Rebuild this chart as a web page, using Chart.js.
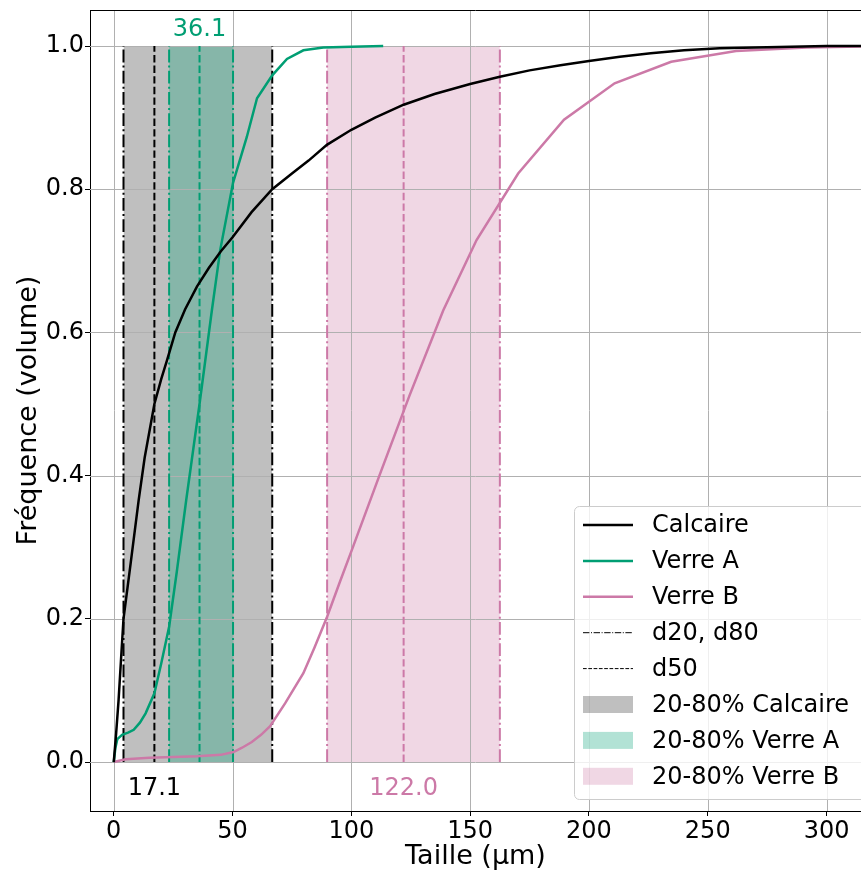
<!DOCTYPE html>
<html>
<head>
<meta charset="utf-8">
<script src="https://cdn.jsdelivr.net/npm/chart.js@4.4.1/dist/chart.umd.min.js"></script>
<style>
  html, body { margin: 0; padding: 0; background: #fff; }
</style>
</head>
<body>
<canvas id="psd" width="861" height="870"></canvas>
<script>
// tick labels
const xTicks = [0, 50, 100, 150, 200, 250, 300];
const yTicks = [0, 0.2, 0.4, 0.6, 0.8, 1.0];

// cumulative curves (size in µm, volume fraction)
const calcaireSize = [0, 1, 2, 3, 4.1, 7.2, 10.5, 13, 17.1, 20, 22.4, 25.9, 30, 35, 40, 45, 50, 58, 66.7, 75, 82, 89.7, 100, 110, 122, 135, 150, 162.5, 175, 188, 200, 213, 226, 240, 255, 270, 285, 300, 316];
const calcaireFreq = [0, 0.04, 0.085, 0.14, 0.2, 0.28, 0.366, 0.425, 0.5, 0.535, 0.561, 0.6, 0.632, 0.664, 0.69, 0.713, 0.733, 0.768, 0.8, 0.822, 0.84, 0.862, 0.883, 0.9, 0.918, 0.933, 0.947, 0.957, 0.966, 0.973, 0.979, 0.985, 0.99, 0.994, 0.997, 0.998, 0.999, 1.0, 1.0];

const verreASize = [0, 0.7, 1.5, 3.5, 6, 8.4, 11, 13.4, 17.1, 20, 23.3, 26.5, 30.5, 36.1, 41.3, 44.8, 50.2, 56, 60.3, 66.7, 72.9, 79.8, 88.2, 100, 113.4];
const verreAFreq = [0, 0.02, 0.032, 0.038, 0.041, 0.045, 0.055, 0.068, 0.096, 0.138, 0.189, 0.265, 0.366, 0.5, 0.631, 0.715, 0.809, 0.873, 0.927, 0.959, 0.982, 0.994, 0.998, 0.999, 1.0];

const verreBSize = [0, 5, 15, 25, 35, 45, 50.4, 54, 58.1, 62, 65.8, 72.1, 79.8, 84.5, 89.8, 95, 100.3, 111.8, 124.5, 138.7, 152.7, 170.2, 189.5, 210.8, 234.6, 261.9, 291.7, 325];
const verreBFreq = [0, 0.004, 0.006, 0.007, 0.008, 0.01, 0.014, 0.02, 0.028, 0.038, 0.05, 0.082, 0.124, 0.16, 0.203, 0.25, 0.297, 0.4, 0.512, 0.631, 0.729, 0.822, 0.897, 0.948, 0.978, 0.993, 0.998, 1.0];

// characteristic sizes per material
const names = ['Calcaire', 'Verre A', 'Verre B'];
const d20 = [4.1, 23.3, 89.8];
const d50 = [17.1, 36.1, 122.0];
const d80 = [66.7, 50.2, 162.5];

const colors = ['#000000', '#009E73', '#CC79A7'];
const bandColors = ['rgba(0,0,0,0.25)', 'rgba(0,158,115,0.3)', 'rgba(204,121,167,0.3)'];
const FONT = "'DejaVu Sans', sans-serif";
const DASH = [7.4, 3.2];
const DASHDOT = [12.8, 3.2, 2, 3.2];

const pts = (xs, ys) => xs.map((v, i) => ({ x: v, y: ys[i] }));
const sizes = [calcaireSize, verreASize, verreBSize];
const freqs = [calcaireFreq, verreAFreq, verreBFreq];

const datasets = [];
// curves on top
names.forEach((n, i) => {
  datasets.push({
    label: n, data: pts(sizes[i], freqs[i]),
    borderColor: colors[i], borderWidth: 2.5, pointRadius: 0, tension: 0, fill: false, order: 1
  });
});
// d20 / d50 / d80 lines
names.forEach((n, i) => {
  [[d20[i], DASHDOT], [d80[i], DASHDOT], [d50[i], DASH]].forEach(([v, dash]) => {
    datasets.push({
      label: n + ' d', data: [{ x: v, y: 0 }, { x: v, y: 1 }],
      borderColor: colors[i], borderWidth: 2, borderDash: dash, borderCapStyle: 'butt',
      pointRadius: 0, fill: false, order: 2
    });
  });
});
// 20-80% bands
names.forEach((n, i) => {
  datasets.push({
    label: '20-80% ' + n, data: [{ x: d20[i], y: 1 }, { x: d80[i], y: 1 }],
    borderWidth: 0, borderColor: 'rgba(0,0,0,0)', backgroundColor: bandColors[i],
    fill: 'origin', pointRadius: 0, order: 6 - i, lastBand: i === 2
  });
});

const legendItems = [
  { text: 'Calcaire', kind: 'line', color: colors[0], w: 2.5 },
  { text: 'Verre A', kind: 'line', color: colors[1], w: 2.5 },
  { text: 'Verre B', kind: 'line', color: colors[2], w: 2.5 },
  { text: 'd20, d80', kind: 'line', color: '#000', w: 1, dash: [6.4, 1.6, 1, 1.6] },
  { text: 'd50', kind: 'line', color: '#000', w: 1, dash: [3.7, 1.6] },
  { text: '20-80% Calcaire', kind: 'patch', color: bandColors[0] },
  { text: '20-80% Verre A', kind: 'patch', color: bandColors[1] },
  { text: '20-80% Verre B', kind: 'patch', color: bandColors[2] }
];

const overlay = {
  id: 'overlay',
  afterDatasetDraw(chart, args) {
    if (!chart.data.datasets[args.index].lastBand) return;
    // grid sits above the shaded bands, below the lines
    const { ctx, chartArea: a, scales: { x, y } } = chart;
    ctx.save();
    ctx.strokeStyle = '#b0b0b0';
    ctx.lineWidth = 1;
    ctx.beginPath();
    xTicks.forEach(v => {
      const p = Math.round(x.getPixelForValue(v)) + 0.5;
      ctx.moveTo(p, a.top); ctx.lineTo(p, a.bottom);
    });
    yTicks.forEach(v => {
      const p = Math.round(y.getPixelForValue(v)) + 0.5;
      ctx.moveTo(a.left, p); ctx.lineTo(a.right, p);
    });
    ctx.stroke();
    ctx.restore();
  },
  afterDatasetsDraw(chart) {
    const { ctx, chartArea: a, scales: { x, y } } = chart;
    ctx.save();
    // top spine
    ctx.strokeStyle = '#000';
    ctx.lineWidth = 1;
    ctx.beginPath();
    ctx.moveTo(a.left, Math.round(a.top) + 0.5); ctx.lineTo(a.right, Math.round(a.top) + 0.5);
    ctx.stroke();

    // d50 labels
    ctx.font = '24px ' + FONT;
    ctx.textAlign = 'center';
    ctx.textBaseline = 'middle';
    d50.forEach((v, i) => {
      ctx.fillStyle = colors[i];
      const above = i === 1;
      const py = above ? y.getPixelForValue(1) - 16 : y.getPixelForValue(0) + 27;
      ctx.fillText(v.toFixed(1), x.getPixelForValue(v), py);
    });

    // legend
    const lx = 574, ly = 506, lw = 300, lh = 293;
    ctx.fillStyle = 'rgba(255,255,255,0.8)';
    ctx.strokeStyle = '#cccccc';
    ctx.lineWidth = 1;
    ctx.beginPath();
    ctx.roundRect(lx + 0.5, ly + 0.5, lw, lh, 5);
    ctx.fill();
    ctx.stroke();
    ctx.textAlign = 'left';
    legendItems.forEach((it, k) => {
      const cy = 525 + k * 35.9;
      if (it.kind === 'line') {
        ctx.strokeStyle = it.color;
        ctx.lineWidth = it.w;
        ctx.setLineDash(it.dash || []);
        ctx.beginPath();
        ctx.moveTo(583, cy); ctx.lineTo(633, cy);
        ctx.stroke();
        ctx.setLineDash([]);
      } else {
        ctx.fillStyle = it.color;
        ctx.fillRect(583, cy - 8.5, 50, 17);
      }
      ctx.fillStyle = '#000';
      ctx.fillText(it.text, 652, cy + 1);
    });
    ctx.restore();
  }
};

new Chart(document.getElementById('psd'), {
  type: 'line',
  data: { datasets },
  plugins: [overlay],
  options: {
    responsive: false,
    animation: false,
    events: [],
    devicePixelRatio: 1,
    layout: { padding: { top: 10, right: 0, bottom: 0, left: 0 } },
    plugins: { legend: { display: false }, tooltip: { enabled: false } },
    scales: {
      x: {
        type: 'linear', min: -10, max: 314.5,
        afterBuildTicks: s => { s.ticks = xTicks.map(v => ({ value: v })); },
        afterFit: s => { s.height = 59; s.paddingLeft = 0; s.paddingRight = 0; },
        grid: { drawOnChartArea: false, drawTicks: true, tickLength: 5, tickColor: '#000', tickWidth: 1 },
        border: { display: true, color: '#000', width: 1 },
        ticks: { font: { family: FONT, size: 24 }, color: '#000', padding: 1, maxRotation: 0, callback: v => String(v) },
        title: { display: true, text: 'Taille (µm)', color: '#000', font: { family: FONT, size: 27, lineHeight: 1.0 }, padding: 0 }
      },
      y: {
        type: 'linear', min: -0.0684, max: 1.0503,
        afterBuildTicks: s => { s.ticks = yTicks.map(v => ({ value: v })); },
        afterFit: s => { s.width = 90; s.paddingTop = 0; s.paddingBottom = 0; },
        grid: { drawOnChartArea: false, drawTicks: true, tickLength: 5, tickColor: '#000', tickWidth: 1 },
        border: { display: true, color: '#000', width: 1 },
        ticks: { font: { family: FONT, size: 24 }, color: '#000', padding: 1, callback: v => v.toFixed(1) },
        title: { display: true, text: 'Fréquence (volume)', color: '#000', font: { family: FONT, size: 27, lineHeight: 1.0 }, padding: { top: 15, bottom: 0 } }
      }
    }
  }
});
</script>
</body>
</html>
